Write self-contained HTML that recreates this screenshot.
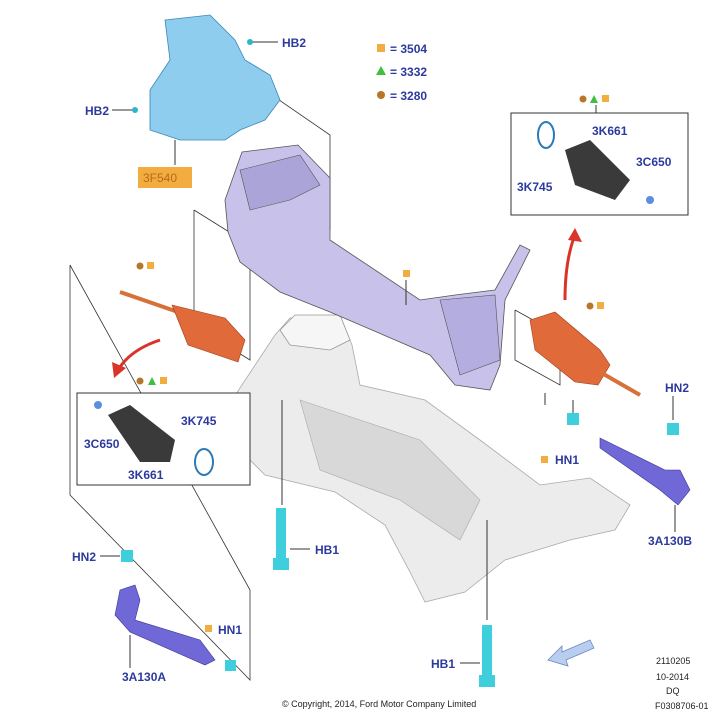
<!DOCTYPE html>
<html><head><meta charset="utf-8"><style>
html,body{margin:0;padding:0;background:#fff;}
svg{display:block;font-family:"Liberation Sans",sans-serif;}
.l{fill:#2c3a9e;font-weight:bold;font-size:12px;}
.s{fill:#222;font-size:9px;}
.ln{stroke:#333;stroke-width:0.8;fill:none;}
</style></head><body>
<svg width="711" height="719" viewBox="0 0 711 719">
<polyline class="ln" points="70,265 70,495 250,680 250,590 70,265"/>
<polyline class="ln" points="194,210 250,245 250,360 194,325 194,210"/>
<polyline class="ln" points="515,310 560,335 560,385 515,360 515,310"/>
<polyline class="ln" points="250,80 330,135 330,230"/>
<!-- subframe -->
<path d="M232,400 L275,335 L290,318 L340,315 L352,345 L360,385 L425,400 L480,440 L540,485 L590,478 L630,505 L615,530 L570,540 L505,560 L465,592 L425,602 L410,572 L385,525 L335,492 L265,475 L235,445 Z" fill="#ececec" stroke="#aaa" stroke-width="0.8"/>
<path d="M280,330 L295,315 L340,315 L350,340 L330,350 L290,345 Z" fill="#f6f6f6" stroke="#999" stroke-width="0.8"/>
<path d="M300,400 L420,440 L480,500 L460,540 L400,500 L320,470 Z" fill="#d8d8d8" stroke="#aaa" stroke-width="0.6"/>
<!-- steering rack -->
<path d="M225,200 L242,152 L298,145 L330,178 L330,240 L420,300 L455,295 L495,290 L520,245 L530,250 L505,300 L500,365 L490,390 L455,385 L430,355 L330,312 L280,292 L240,262 L228,232 Z" fill="#c8c2ea" stroke="#555" stroke-width="0.8"/>
<path d="M240,170 L300,155 L320,185 L290,200 L250,210 Z" fill="#aaa4d8" stroke="#555" stroke-width="0.6"/>
<path d="M440,300 L495,295 L500,360 L460,375 Z" fill="#b4aee0" stroke="#555" stroke-width="0.6"/>
<!-- shield -->
<path d="M165,20 L210,15 L235,40 L245,60 L270,75 L280,100 L265,120 L240,130 L225,140 L180,140 L150,130 L150,90 L170,60 Z" fill="#8fcdef" stroke="#3a86b7" stroke-width="0.8"/>
<line x1="175" y1="140" x2="175" y2="165" stroke="#333"/>
<rect x="138" y="167" width="54" height="21" fill="#f2ac40"/>
<text x="143" y="182" class="l" style="fill:#b86a1a;font-weight:normal">3F540</text>
<circle cx="250" cy="42" r="3" fill="#2ab6c8"/><line x1="253" y1="42" x2="278" y2="42" stroke="#333"/>
<text x="282" y="47" class="l">HB2</text>
<circle cx="135" cy="110" r="3" fill="#2ab6c8"/><line x1="112" y1="110" x2="132" y2="110" stroke="#333"/>
<text x="85" y="115" class="l">HB2</text>
<rect x="377" y="44" width="8" height="8" fill="#f2ac40"/><text x="390" y="53" class="l">= 3504</text>
<polygon points="381,66 386,75 376,75" fill="#3fbf3f"/><text x="390" y="76" class="l">= 3332</text>
<circle cx="381" cy="95" r="4" fill="#b8762a"/><text x="390" y="100" class="l">= 3280</text>
<!-- right box -->
<circle cx="583" cy="99" r="3.5" fill="#b8762a"/><polygon points="594,95 598,103 590,103" fill="#3fbf3f"/><rect x="602" y="95" width="7" height="7" fill="#f2ac40"/>
<line x1="596" y1="105" x2="596" y2="113" stroke="#333"/>
<rect x="511" y="113" width="177" height="102" fill="#fff" stroke="#333"/>
<ellipse cx="546" cy="135" rx="8" ry="13" fill="none" stroke="#2c7ab8" stroke-width="2"/>
<path d="M565,150 L590,140 L630,180 L615,200 L575,185 Z" fill="#3a3a3a"/>
<text x="592" y="135" class="l">3K661</text>
<text x="636" y="166" class="l">3C650</text>
<text x="517" y="191" class="l">3K745</text>
<circle cx="650" cy="200" r="4" fill="#5b8ee0"/>
<!-- right boot -->
<path d="M530,320 L555,312 L600,350 L610,365 L598,385 L575,382 L535,350 Z" fill="#e06a3a" stroke="#a0401a" stroke-width="0.6"/>
<line x1="600" y1="372" x2="640" y2="395" stroke="#d8703a" stroke-width="4"/>
<circle cx="590" cy="306" r="3.5" fill="#b8762a"/><rect x="597" y="302" width="7" height="7" fill="#f2ac40"/>
<path d="M565,300 Q565,260 575,235" stroke="#d9332a" stroke-width="3" fill="none"/>
<polygon points="575,228 582,242 568,240" fill="#d9332a"/>
<!-- left boot -->
<circle cx="140" cy="266" r="3.5" fill="#b8762a"/><rect x="147" y="262" width="7" height="7" fill="#f2ac40"/>
<line x1="120" y1="292" x2="178" y2="312" stroke="#d8703a" stroke-width="4"/>
<path d="M172,305 L225,318 L245,340 L238,362 L188,345 Z" fill="#e06a3a" stroke="#a0401a" stroke-width="0.6"/>
<path d="M160,340 Q130,350 118,370" stroke="#d9332a" stroke-width="3" fill="none"/>
<polygon points="114,378 112,362 126,368" fill="#d9332a"/>
<rect x="403" y="270" width="7" height="7" fill="#f2ac40"/><line x1="406" y1="280" x2="406" y2="305" stroke="#333"/>
<!-- left box -->
<circle cx="140" cy="381" r="3.5" fill="#b8762a"/><polygon points="152,377 156,385 148,385" fill="#3fbf3f"/><rect x="160" y="377" width="7" height="7" fill="#f2ac40"/>
<rect x="77" y="393" width="173" height="92" fill="#fff" stroke="#333"/>
<circle cx="98" cy="405" r="4" fill="#5b8ee0"/>
<path d="M108,415 L130,405 L175,440 L170,462 L140,462 Z" fill="#3a3a3a"/>
<ellipse cx="204" cy="462" rx="9" ry="13" fill="none" stroke="#2c7ab8" stroke-width="2"/>
<text x="181" y="425" class="l">3K745</text>
<text x="84" y="448" class="l">3C650</text>
<text x="128" y="479" class="l">3K661</text>
<!-- bolts -->
<line x1="282" y1="400" x2="282" y2="505" stroke="#333"/>
<rect x="276" y="508" width="10" height="52" fill="#3fcfdc"/><rect x="273" y="558" width="16" height="12" fill="#3fcfdc"/>
<line x1="290" y1="549" x2="310" y2="549" stroke="#333"/>
<text x="315" y="554" class="l">HB1</text>
<line x1="487" y1="520" x2="487" y2="620" stroke="#333"/>
<rect x="482" y="625" width="10" height="52" fill="#3fcfdc"/><rect x="479" y="675" width="16" height="12" fill="#3fcfdc"/>
<line x1="460" y1="663" x2="480" y2="663" stroke="#333"/>
<text x="431" y="668" class="l">HB1</text>
<!-- right tie rod -->
<rect x="567" y="413" width="12" height="12" fill="#3fcfdc"/>
<line x1="573" y1="400" x2="573" y2="413" stroke="#333"/>
<line x1="545" y1="393" x2="545" y2="405" stroke="#333"/>
<rect x="541" y="456" width="7" height="7" fill="#f2ac40"/><text x="555" y="464" class="l">HN1</text>
<path d="M600,438 L665,470 L680,470 L690,490 L678,505 L660,490 L600,448 Z" fill="#7068d6" stroke="#3b3594" stroke-width="0.6"/>
<rect x="667" y="423" width="12" height="12" fill="#3fcfdc"/>
<text x="665" y="392" class="l">HN2</text>
<line x1="673" y1="396" x2="673" y2="420" stroke="#333"/>
<text x="648" y="545" class="l">3A130B</text>
<line x1="675" y1="505" x2="675" y2="532" stroke="#333"/>
<!-- left tie rod -->
<text x="72" y="561" class="l">HN2</text>
<line x1="100" y1="556" x2="120" y2="556" stroke="#333"/>
<rect x="121" y="550" width="12" height="12" fill="#3fcfdc"/>
<path d="M120,590 L135,585 L140,600 L135,620 L200,640 L215,660 L205,665 L130,632 L115,615 Z" fill="#7068d6" stroke="#3b3594" stroke-width="0.6"/>
<rect x="225" y="660" width="11" height="11" fill="#3fcfdc"/>
<rect x="205" y="625" width="7" height="7" fill="#f2ac40"/><text x="218" y="634" class="l">HN1</text>
<text x="122" y="681" class="l">3A130A</text>
<line x1="130" y1="635" x2="130" y2="668" stroke="#333"/>
<polygon points="548,660 562,646 562,652 590,640 594,648 566,660 568,666" fill="#b9cdf0" stroke="#6b8ac0" stroke-width="0.8"/>
<text x="656" y="664" class="s">2110205</text>
<text x="656" y="680" class="s">10-2014</text>
<text x="666" y="694" class="s">DQ</text>
<text x="655" y="709" class="s">F0308706-01</text>
<text x="282" y="707" class="s">© Copyright, 2014, Ford Motor Company Limited</text>
</svg>
</body></html>
